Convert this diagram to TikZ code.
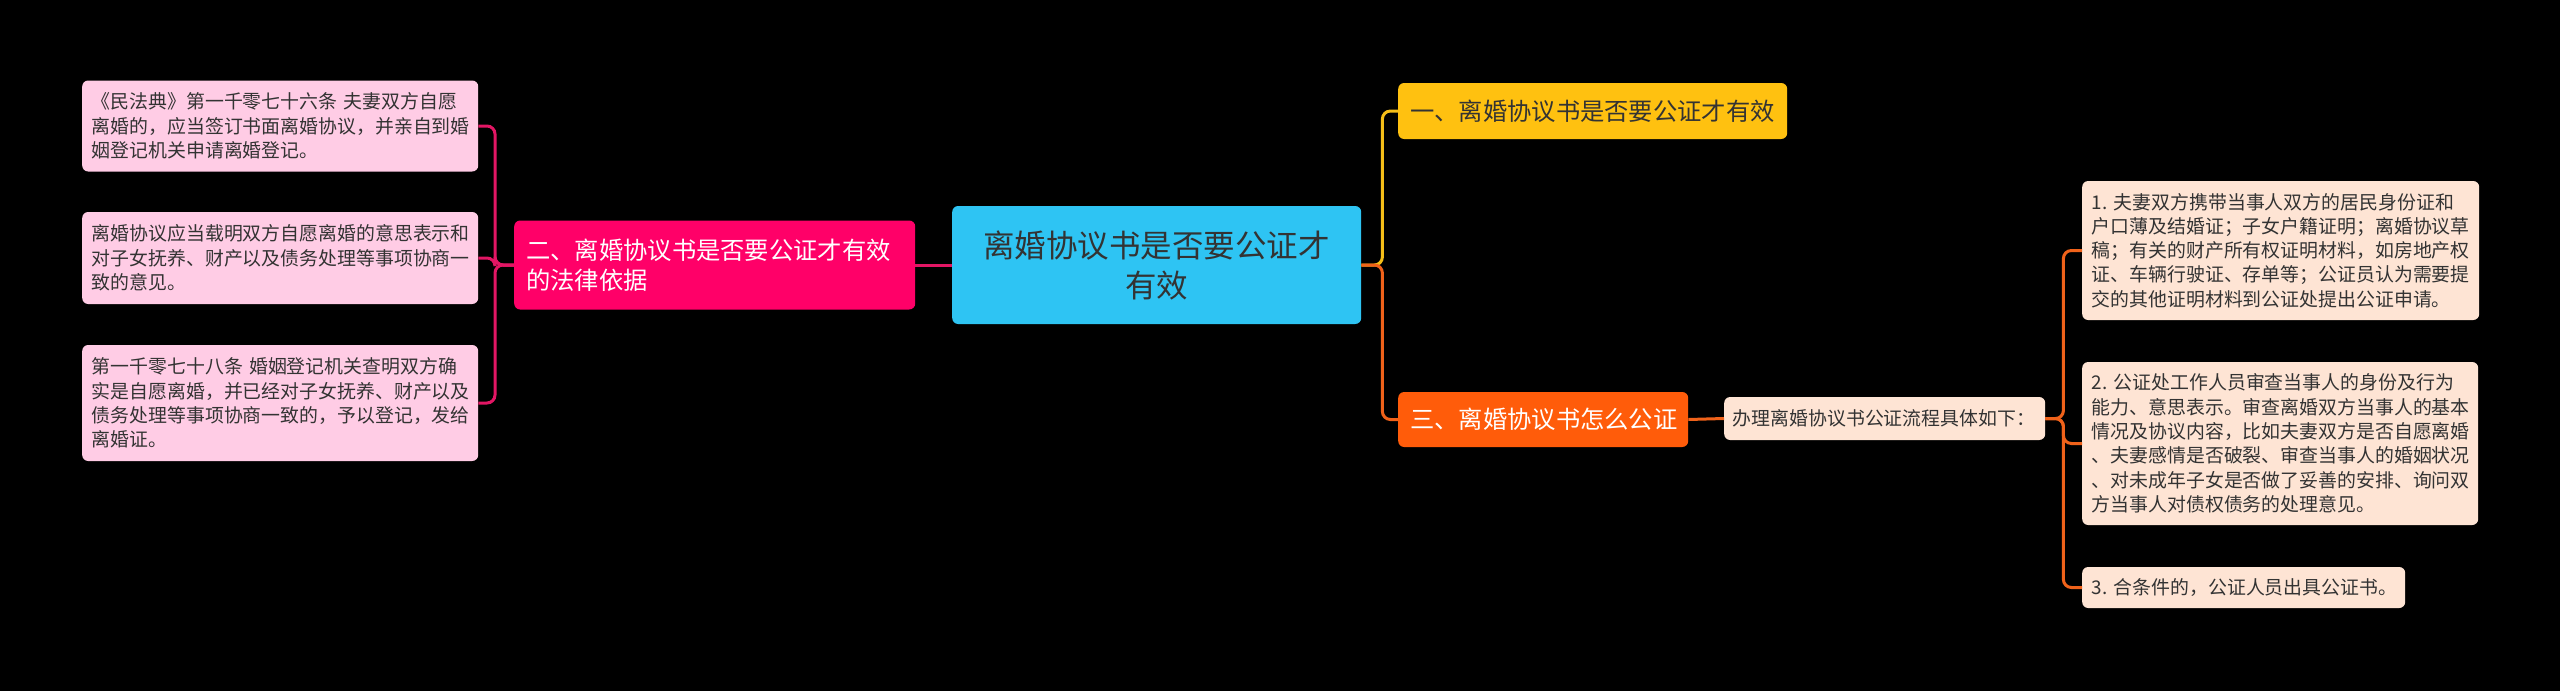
\documentclass[tikz,border=0pt]{standalone}
\usepackage{fontspec}
\setmainfont{Noto Sans CJK SC}
\usepackage{tikz}
\usetikzlibrary{positioning}
\definecolor{hubcyan}{RGB}{46,196,243}
\definecolor{lawpink}{RGB}{255,0,104}
\definecolor{leafpink}{RGB}{255,204,229}
\definecolor{wirepink}{RGB}{226,22,100}
\definecolor{gold}{RGB}{255,193,16}
\definecolor{wiregold}{RGB}{245,190,24}
\definecolor{orange}{RGB}{255,92,10}
\definecolor{wireorange}{RGB}{240,98,26}
\definecolor{peach}{RGB}{254,228,212}
\definecolor{ink}{RGB}{51,51,51}

\begin{document}
\begin{tikzpicture}[x=1pt, y=-1pt,
  box/.style={rounded corners=6pt, anchor=west, inner ysep=0pt},
  leaf/.style={box, inner xsep=9.5pt, align=left, text=ink,
    font=\fontsize{18.9}{24.3}\selectfont},
  branch/.style={box, inner xsep=12pt, align=left,
    font=\fontsize{24.3}{30}\selectfont},
  wire/.style={line width=3pt, rounded corners=8pt}]
\fill[black] (0,0) rectangle (2560,691);
\useasboundingbox (0,0) rectangle (2560,691);

% centre
\node[box, fill=hubcyan, text=ink, minimum height=118pt, text width=391pt, inner xsep=9pt,
  align=center, font=\fontsize{31.5}{40}\selectfont] (hub) at (952,265) {离婚协议书是否要公证才\\有效};

% left branch
\node[branch, fill=lawpink, text=white, minimum height=89pt, text width=377pt] (law) at (514,265)
  {二、离婚协议书是否要公证才有效\\的法律依据};
\node[leaf, fill=leafpink, minimum height=91pt, text width=377pt] (civil) at (82,126)
  {《民法典》第一千零七十六条 夫妻双方自愿\\离婚的，应当签订书面离婚协议，并亲自到婚\\姻登记机关申请离婚登记。};
\node[leaf, fill=leafpink, minimum height=92pt, text width=377pt] (terms) at (82,258)
  {离婚协议应当载明双方自愿离婚的意思表示和\\对子女抚养、财产以及债务处理等事项协商一\\致的意见。};
\node[leaf, fill=leafpink, minimum height=116pt, text width=377pt] (register) at (82,403)
  {第一千零七十八条 婚姻登记机关查明双方确\\实是自愿离婚，并已经对子女抚养、财产以及\\债务处理等事项协商一致的，予以登记，发给\\离婚证。};

% right branches
\node[branch, fill=gold, text=ink, minimum height=56pt, text width=365pt] (need) at (1398,111)
  {一、离婚协议书是否要公证才有效};
\node[branch, fill=orange, text=white, minimum height=55pt, text width=266pt] (how) at (1398,419.5)
  {三、离婚协议书怎么公证};
\node[leaf, fill=peach, minimum height=43pt, text width=304pt, inner xsep=8.5pt] (steps) at (1724,418.5)
  {办理离婚协议书公证流程具体如下：};
\node[leaf, fill=peach, minimum height=139pt, text width=378pt] (apply) at (2082,250.5)
  {1.~夫妻双方携带当事人双方的居民身份证和\\户口薄及结婚证；子女户籍证明；离婚协议草\\稿；有关的财产所有权证明材料，如房地产权\\证、车辆行驶证、存单等；公证员认为需要提\\交的其他证明材料到公证处提出公证申请。};
\node[leaf, fill=peach, minimum height=163pt, text width=377pt] (review) at (2082,443.5)
  {2.~公证处工作人员审查当事人的身份及行为\\能力、意思表示。审查离婚双方当事人的基本\\情况及协议内容，比如夫妻双方是否自愿离婚\\、夫妻感情是否破裂、审查当事人的婚姻状况\\、对未成年子女是否做了妥善的安排、询问双\\方当事人对债权债务的处理意见。};
\node[leaf, fill=peach, minimum height=41pt, text width=304pt] (issue) at (2082,587.5)
  {3.~合条件的，公证人员出具公证书。};

% connectors
\draw[wire, wirepink] (hub.west) -- (law.east);
\draw[wire, wirepink] (law.west) -- ++(-19,0) |- (civil.east);
\draw[wire, wirepink] (law.west) -- ++(-19,0) |- (terms.east);
\draw[wire, wirepink] (law.west) -- ++(-19,0) |- (register.east);
\draw[wire, wiregold] (hub.east) -- ++(21,0) |- (need.west);
\draw[wire, wireorange] (hub.east) -- ++(21,0) |- (how.west);
\draw[wire, wireorange] (how.east) -- (steps.west);
\draw[wire, wireorange] (steps.east) -- ++(18,0) |- (apply.west);
\draw[wire, wireorange] (steps.east) -- ++(18,0) |- (review.west);
\draw[wire, wireorange] (steps.east) -- ++(18,0) |- (issue.west);
\end{tikzpicture}
\end{document}
